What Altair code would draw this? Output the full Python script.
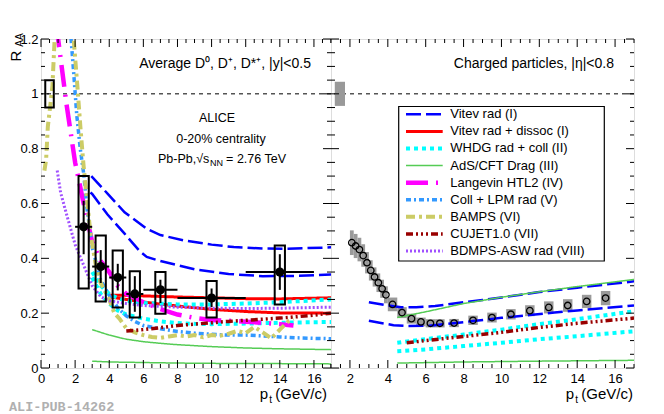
import altair as alt
import pandas as pd

FONT = "Liberation Sans"
WL, WR, H = 290, 303, 329
XL_DOM = [0, 17]
XR_DOM = [1, 17]
Y_DOM = [0, 1.2]

# ---------------- models (legend order) ----------------
MODELS = ["Vitev rad (I)", "Vitev rad + dissoc (I)", "WHDG rad + coll (II)", "AdS/CFT Drag (III)",
          "Langevin HTL2 (IV)", "Coll + LPM rad (V)", "BAMPS (VI)", "CUJET1.0 (VII)", "BDMPS-ASW rad (VIII)"]
COLORS = ["#0000ff", "#ff0000", "#00ffff", "#55cc55", "#ff00ff", "#3399ff", "#cccc66", "#990000", "#a050ff"]
DASHES = [[15, 5], [1, 0], [4, 4], [1, 0], [22, 8, 2, 8], [5, 3, 2, 3], [9, 4, 3, 4],
          [7, 3, 2, 3, 2, 3, 2, 3], [2, 2]]
WIDTHS = [2.5, 3, 4, 1.5, 4.5, 3.5, 4, 3.5, 3]

# ---------------- left panel: D mesons, theory curves ----------------
VITEV_UP_PT = [2.95, 3.9, 4.9, 6.2, 7, 8.4, 10, 11.3, 13, 14.4, 17]
VITEV_UP = [0.70, 0.636, 0.568, 0.508, 0.485, 0.465, 0.45, 0.441, 0.436, 0.435, 0.44]
VITEV_LO_PT = [2.9, 3.0, 3.9, 4.9, 5.8, 6.2, 7, 9, 11, 13, 15, 17]
VITEV_LO = [0.64, 0.635, 0.56, 0.49, 0.425, 0.405, 0.39, 0.36, 0.343, 0.335, 0.336, 0.341]
DISS_UP_PT = [4, 5, 6, 8, 10, 12, 14, 17]
DISS_UP = [0.265, 0.265, 0.263, 0.259, 0.256, 0.253, 0.252, 0.256]
DISS_LO_PT = [4, 5, 6, 7, 8, 10, 12, 14, 17]
DISS_LO = [0.26, 0.25, 0.241, 0.233, 0.226, 0.214, 0.206, 0.201, 0.2]
WHDG_UP_PT = [3, 3.5, 4, 4.5, 5, 6, 8, 10, 12, 14, 17]
WHDG_UP = [0.35, 0.3, 0.27, 0.255, 0.245, 0.237, 0.232, 0.232, 0.235, 0.24, 0.25]
WHDG_LO_PT = [3, 3.5, 4, 4.5, 5, 6, 7, 8, 9, 10, 12, 14, 17]
WHDG_LO = [0.33, 0.27, 0.235, 0.21, 0.195, 0.18, 0.17, 0.164, 0.161, 0.16, 0.162, 0.165, 0.168]
ADS_UP_PT = [3, 3.5, 4, 5, 6, 7, 8, 10, 12, 14, 17]
ADS_UP = [0.14, 0.13, 0.12, 0.105, 0.096, 0.09, 0.085, 0.078, 0.073, 0.07, 0.067]
ADS_LO_PT = [3, 4, 6, 8, 10, 12, 14, 17]
ADS_LO = [0.025, 0.022, 0.02, 0.018, 0.017, 0.016, 0.016, 0.015]
LANG_PT = [0.9, 1.5, 2.0, 2.5, 3.0, 3.5, 4.0, 4.5, 5, 5.5, 6, 7, 8, 9, 10, 11, 12, 13, 14, 14.8]
LANG = [1.25, 0.96, 0.75, 0.6, 0.46, 0.39, 0.35, 0.3, 0.27, 0.255, 0.24, 0.215, 0.195, 0.183,
        0.175, 0.172, 0.169, 0.165, 0.16, 0.155]
LPM_PT = [1.7, 1.9, 2.1, 2.3, 2.5, 2.7, 3.0, 3.5, 4.0, 4.5, 5, 5.5, 6, 7, 8, 9, 10, 11, 12, 13,
          14, 15, 16, 17]
LPM = [1.25, 1.09, 0.92, 0.8, 0.71, 0.58, 0.44, 0.32, 0.265, 0.22, 0.19, 0.17, 0.155, 0.143,
       0.133, 0.127, 0.123, 0.12, 0.12, 0.117, 0.113, 0.11, 0.108, 0.107]
BAMPS_PT = [0.2, 0.3, 0.4, 0.55, 0.67, 0.8, 1.0, 1.5, 1.85, 2.13, 2.32, 2.5, 2.7, 2.9, 3.2, 3.5,
            4.0, 4.3, 4.6, 5.0, 5.5, 6, 6.5, 7, 7.5, 8, 8.5, 9, 9.5, 10, 10.5, 11, 11.5, 12, 12.5,
            13, 13.5, 14, 14.5, 14.8]
BAMPS = [0.72, 0.76, 0.88, 0.96, 1.03, 1.2, 1.4, 1.5, 1.25, 1.03, 0.87, 0.735, 0.61, 0.49, 0.38,
         0.31, 0.25, 0.2, 0.18, 0.145, 0.13, 0.12, 0.113, 0.11, 0.115, 0.12, 0.115, 0.12, 0.112,
         0.12, 0.118, 0.125, 0.135, 0.127, 0.15, 0.13, 0.108, 0.14, 0.17, 0.18]
CUJET_PT = [5, 6, 7, 8, 9, 10, 11, 12, 13, 14, 15, 16, 17]
CUJET = [0.135, 0.14, 0.147, 0.155, 0.16, 0.165, 0.17, 0.174, 0.178, 0.182, 0.187, 0.193, 0.2]
BDMPS_PT = [0.95, 1.15, 1.5, 2.0, 2.3, 2.6, 3.0, 3.5, 4, 5, 6, 8, 10, 12, 14, 17]
BDMPS = [0.72, 0.64, 0.56, 0.45, 0.405, 0.36, 0.3, 0.26, 0.245, 0.235, 0.228, 0.222, 0.218,
         0.217, 0.218, 0.222]

# ---------------- right panel: charged particles, theory curves ----------------
RV_UP_PT = [3, 4, 4.7, 5.5, 6.5, 8, 9, 10, 12, 14, 17]
RV_UP = [0.24, 0.228, 0.222, 0.222, 0.226, 0.24, 0.248, 0.257, 0.277, 0.293, 0.316]
RV_LO_PT = [3, 4.3, 5, 6.2, 7, 8.5, 10, 11.5, 12.8, 14, 17]
RV_LO = [0.172, 0.156, 0.153, 0.154, 0.16, 0.171, 0.183, 0.193, 0.202, 0.21, 0.228]
RADS_UP_PT = [4.5, 6, 8, 10, 12, 14, 17]
RADS_UP = [0.184, 0.205, 0.235, 0.258, 0.278, 0.297, 0.323]
RADS_LO_PT = [4.5, 8, 12, 17]
RADS_LO = [0.018, 0.022, 0.025, 0.028]
RWHDG_UP_PT = [4.5, 6, 8, 10, 12, 14, 17]
RWHDG_UP = [0.092, 0.105, 0.122, 0.14, 0.16, 0.178, 0.207]
RWHDG_LO_PT = [4.5, 6, 8, 10, 12, 14, 17]
RWHDG_LO = [0.061, 0.068, 0.08, 0.092, 0.105, 0.116, 0.134]
RCUJET_PT = [5, 6, 8, 10, 12, 14, 17]
RCUJET = [0.092, 0.1, 0.115, 0.13, 0.148, 0.163, 0.182]

# ---------------- measured data ----------------
D_PT = [2.5, 3.5, 4.5, 5.5, 7, 10, 14]
D_PT_LO = [2, 3, 4, 5, 6, 8, 12]
D_PT_HI = [3, 4, 5, 6, 8, 12, 16]
D_RAA = [0.515, 0.37, 0.33, 0.27, 0.285, 0.255, 0.35]
D_STAT_LO = [0.415, 0.31, 0.283, 0.205, 0.237, 0.222, 0.285]
D_STAT_HI = [0.61, 0.43, 0.38, 0.335, 0.322, 0.29, 0.415]
D_SYS_LO = [0.29, 0.243, 0.221, 0.184, 0.198, 0.184, 0.232]
D_SYS_HI = [0.70, 0.483, 0.429, 0.353, 0.35, 0.317, 0.447]
D_NORM = [0.95, 1.05]

CH_PT = [2.1, 2.3, 2.5, 2.7, 2.9, 3.1, 3.3, 3.5, 3.7, 3.9, 4.25, 4.75, 5.25, 5.75, 6.25, 6.75,
         7.5, 8.5, 9.5, 10.5, 11.5, 12.5, 13.5, 14.5, 15.5]
CH_RAA = [0.457, 0.445, 0.432, 0.41, 0.384, 0.356, 0.332, 0.311, 0.289, 0.267, 0.232, 0.202,
          0.18, 0.168, 0.163, 0.163, 0.164, 0.174, 0.184, 0.196, 0.209, 0.221, 0.228, 0.243, 0.255]
CH_SYS = [0.045, 0.044, 0.043, 0.041, 0.039, 0.037, 0.035, 0.034, 0.033, 0.031, 0.025, 0.02,
          0.018, 0.016, 0.015, 0.015, 0.015, 0.017, 0.018, 0.019, 0.02, 0.022, 0.023, 0.024, 0.026]
CH_NORM = [0.956, 1.044]

# ---------------- ticks and texts ----------------
Y_LABELS = [0, 0.2, 0.4, 0.6, 0.8, 1, 1.2]
Y_MINOR = [round(0.05 * i, 2) for i in range(25) if i % 4]
XL_LABELS = [0, 2, 4, 6, 8, 10, 12, 14, 16]
XL_MINOR = [0.5 * i for i in range(35) if i % 4]
XR_LABELS = [2, 4, 6, 8, 10, 12, 14, 16]
XR_MINOR = [0.5 * i for i in range(2, 35) if i % 4]

TXT_D = "Average D\u2070, D\u207a, D*\u207a, |y|<0.5"
TXT_CH = "Charged particles, |\u03b7|<0.8"
TXT_ALICE = "ALICE"
TXT_CENT = "0-20% centrality"
TXT_SYS1 = "Pb-Pb,\u221as"
TXT_SYS2 = "NN"
TXT_SYS3 = "= 2.76 TeV"
TXT_PUB = "ALI-PUB-14262"


def curve(model, cid, pts, vals):
    return pd.DataFrame({"model": model, "curve": cid, "pt": pts, "raa": vals})


left_theory = pd.concat([
    curve(MODELS[0], "a", VITEV_UP_PT, VITEV_UP), curve(MODELS[0], "b", VITEV_LO_PT, VITEV_LO),
    curve(MODELS[1], "a", DISS_UP_PT, DISS_UP), curve(MODELS[1], "b", DISS_LO_PT, DISS_LO),
    curve(MODELS[2], "a", WHDG_UP_PT, WHDG_UP), curve(MODELS[2], "b", WHDG_LO_PT, WHDG_LO),
    curve(MODELS[3], "a", ADS_UP_PT, ADS_UP), curve(MODELS[3], "b", ADS_LO_PT, ADS_LO),
    curve(MODELS[4], "a", LANG_PT, LANG),
    curve(MODELS[5], "a", LPM_PT, LPM),
    curve(MODELS[6], "a", BAMPS_PT, BAMPS),
    curve(MODELS[7], "a", CUJET_PT, CUJET),
    curve(MODELS[8], "a", BDMPS_PT, BDMPS),
])
right_theory = pd.concat([
    curve(MODELS[0], "a", RV_UP_PT, RV_UP), curve(MODELS[0], "b", RV_LO_PT, RV_LO),
    curve(MODELS[2], "a", RWHDG_UP_PT, RWHDG_UP), curve(MODELS[2], "b", RWHDG_LO_PT, RWHDG_LO),
    curve(MODELS[3], "a", RADS_UP_PT, RADS_UP), curve(MODELS[3], "b", RADS_LO_PT, RADS_LO),
    curve(MODELS[7], "a", RCUJET_PT, RCUJET),
])

Y_AXIS = alt.Axis(values=Y_LABELS, format="~g", title=None, ticks=False, domain=False, grid=False,
                  labelFont=FONT, labelFontSize=13, labelColor="black", labelPadding=3,
                  labelFlush=False, labelOverlap=False)


def x_axis(vals):
    return alt.Axis(values=vals, format="d", title=None, ticks=False, domain=False, grid=False,
                    labelFont=FONT, labelFontSize=13, labelColor="black", labelPadding=4,
                    labelFlush=False, labelOverlap=False)


def xenc(panel, field="pt"):
    if panel == "L":
        return alt.X(f"{field}:Q", scale=alt.Scale(domain=XL_DOM, nice=False, zero=False),
                     axis=x_axis(XL_LABELS))
    return alt.X(f"{field}:Q", scale=alt.Scale(domain=XR_DOM, nice=False, zero=False),
                 axis=x_axis(XR_LABELS))


def yenc(panel, field="raa"):
    return alt.Y(f"{field}:Q", scale=alt.Scale(domain=Y_DOM, nice=False, zero=False),
                 axis=Y_AXIS if panel == "L" else None)


def txt(s, x, y, size=13, align="left", baseline="alphabetic", angle=0, font=FONT,
        color="black", weight="normal"):
    return alt.Chart(pd.DataFrame({"t": [s]})).mark_text(
        align=align, baseline=baseline, fontSize=size, font=font, color=color, angle=angle,
        fontWeight=weight).encode(text="t:N", x=alt.value(x), y=alt.value(y))


def theory_layers(df, panel):
    out = []
    for m, c, d, w in zip(MODELS, COLORS, DASHES, WIDTHS):
        sub = df[df.model == m]
        if sub.empty:
            continue
        out.append(alt.Chart(sub).mark_line(color=c, strokeDash=d, strokeWidth=w, clip=True,
                                            strokeCap="butt").encode(
            x=xenc(panel), y=yenc(panel), detail="curve:N"))
    return out


def tick_layers(panel, W, xmaj, xmin):
    out = []
    for vals, L in ((Y_LABELS, 8), (Y_MINOR, 4)):
        d = pd.DataFrame({"v": vals})
        out.append(alt.Chart(d).mark_rule(color="black", strokeWidth=1).encode(
            y=yenc(panel, "v"), x=alt.value(0), x2=alt.value(L)))
        out.append(alt.Chart(d).mark_rule(color="black", strokeWidth=1).encode(
            y=yenc(panel, "v"), x=alt.value(W - L), x2=alt.value(W)))
    for vals, L in ((xmaj, 8), (xmin, 4)):
        d = pd.DataFrame({"v": vals})
        out.append(alt.Chart(d).mark_rule(color="black", strokeWidth=1).encode(
            x=xenc(panel, "v"), y=alt.value(H - L), y2=alt.value(H)))
        out.append(alt.Chart(d).mark_rule(color="black", strokeWidth=1).encode(
            x=xenc(panel, "v"), y=alt.value(0), y2=alt.value(L)))
    return out


unity = pd.DataFrame({"raa": [1.0]})

# ---------------- left panel ----------------
BOX_HW = 0.3
d_df = pd.DataFrame({"pt": D_PT, "lo": D_PT_LO, "hi": D_PT_HI, "raa": D_RAA,
                     "slo": D_STAT_LO, "shi": D_STAT_HI, "ylo": D_SYS_LO, "yhi": D_SYS_HI})
d_df["bx1"] = d_df.pt - BOX_HW
d_df["bx2"] = d_df.pt + BOX_HW
dn_df = pd.DataFrame({"x1": [0.25], "x2": [0.75], "y1": [D_NORM[0]], "y2": [D_NORM[1]]})

left_layers = [
    alt.Chart(unity).mark_rule(color="#555555", strokeDash=[4, 4], strokeWidth=1.5).encode(
        y=yenc("L")),
    *theory_layers(left_theory, "L"),
    alt.Chart(dn_df).mark_rect(fillOpacity=0, stroke="black", strokeWidth=2).encode(
        x=xenc("L", "x1"), x2="x2:Q", y=yenc("L", "y1"), y2="y2:Q"),
    alt.Chart(d_df).mark_rect(fillOpacity=0, stroke="black", strokeWidth=2).encode(
        x=xenc("L", "bx1"), x2="bx2:Q", y=yenc("L", "ylo"), y2="yhi:Q"),
    alt.Chart(d_df).mark_rule(color="black", strokeWidth=2).encode(
        x=xenc("L"), y=yenc("L", "slo"), y2="shi:Q"),
    alt.Chart(d_df).mark_rule(color="black", strokeWidth=2).encode(
        x=xenc("L", "lo"), x2="hi:Q", y=yenc("L")),
    alt.Chart(d_df).mark_circle(color="black", size=85, opacity=1).encode(
        x=xenc("L"), y=yenc("L")),
    *tick_layers("L", WL, XL_LABELS, XL_MINOR),
    txt(TXT_D, 270, 29, size=14, align="right"),
    txt(TXT_ALICE, 176, 79, size=12.5, align="center", baseline="middle"),
    txt(TXT_CENT, 180, 100, size=12.5, align="center", baseline="middle"),
    txt(TXT_SYS1, 117, 124, size=12.5, align="left"),
    txt(TXT_SYS2, 169, 127, size=9, align="left"),
    txt(TXT_SYS3, 245, 124, size=12.5, align="right"),
    txt("(GeV/c)", 286, 360, size=15, align="right"),
    txt("t", 231, 364, size=10, align="right"),
    txt("p", 227, 360, size=15, align="right"),
    txt("R", -20, 17, size=15, align="center", angle=270),
    txt("AA", -18.5, 1, size=10, align="center", angle=270),
    txt(TXT_PUB, -32, 372, size=13.5, font="Liberation Mono", color="#b0b0b0", weight="bold"),
]
left = alt.layer(*left_layers).properties(width=WL, height=H)

# ---------------- right panel ----------------
ch_df = pd.DataFrame({"pt": CH_PT, "raa": CH_RAA, "sys": CH_SYS})
ch_df["hw"] = [0.1 if p < 4 else 0.25 for p in CH_PT]
ch_df["bx1"] = ch_df.pt - ch_df.hw
ch_df["bx2"] = ch_df.pt + ch_df.hw
ch_df["ylo"] = ch_df.raa - ch_df.sys
ch_df["yhi"] = ch_df.raa + ch_df.sys
cn_df = pd.DataFrame({"x1": [1.2], "x2": [1.74], "y1": [CH_NORM[0]], "y2": [CH_NORM[1]]})

right_main = alt.layer(
    alt.Chart(unity).mark_rule(color="#555555", strokeDash=[4, 4], strokeWidth=1.5).encode(
        y=yenc("R")),
    alt.Chart(cn_df).mark_rect(color="#999999").encode(
        x=xenc("R", "x1"), x2="x2:Q", y=yenc("R", "y1"), y2="y2:Q"),
    alt.Chart(ch_df).mark_rect(color="#9a9a9a").encode(
        x=xenc("R", "bx1"), x2="bx2:Q", y=yenc("R", "ylo"), y2="yhi:Q"),
    *theory_layers(right_theory, "R"),
    alt.Chart(ch_df).mark_point(shape="circle", size=42, filled=False, color="black",
                                strokeWidth=1.3, opacity=1).encode(x=xenc("R"), y=yenc("R")),
    *tick_layers("R", WR, XR_LABELS, XR_MINOR),
    txt(TXT_CH, 283, 29, size=14, align="right"),
    txt("(GeV/c)", 302, 360, size=15, align="right"),
    txt("t", 247, 364, size=10, align="right"),
    txt("p", 243, 360, size=15, align="right"),
)

leg_df = pd.DataFrame({"model": MODELS, "row": list(range(len(MODELS)))})
LEG_SCALE = alt.Scale(domain=[0, 8], range=[75.3, 212])
leg_layers = [
    alt.Chart(pd.DataFrame({"a": [0]})).mark_rect(fill="white", stroke="black",
                                                  strokeWidth=1.2).encode(
        x=alt.value(67.7), x2=alt.value(273.3), y=alt.value(67.5), y2=alt.value(222)),
]
for m, c, d, w in zip(MODELS, COLORS, DASHES, WIDTHS):
    leg_layers.append(alt.Chart(leg_df[leg_df.model == m]).mark_rule(
        color=c, strokeDash=d, strokeWidth=w, strokeCap="butt").encode(
        x=alt.value(75), x2=alt.value(111.7),
        y=alt.Y("row:Q", scale=LEG_SCALE, axis=None)))
leg_layers.append(alt.Chart(leg_df).mark_text(align="left", baseline="middle", fontSize=13,
                                              font=FONT, color="black").encode(
    x=alt.value(119.3), y=alt.Y("row:Q", scale=LEG_SCALE, axis=None), text="model:N"))
legend = alt.layer(*leg_layers)

right = alt.layer(right_main, legend).resolve_scale(y="independent").properties(
    width=WR, height=H)

chart = alt.hconcat(left, right, spacing=0, bounds="flush").properties(
    padding={"left": 0, "top": 24, "right": 0, "bottom": 0}
).configure_view(stroke="black", strokeWidth=1).configure(font=FONT, background="white")

chart.save("out.html", embed_options={"renderer": "svg", "actions": False})
